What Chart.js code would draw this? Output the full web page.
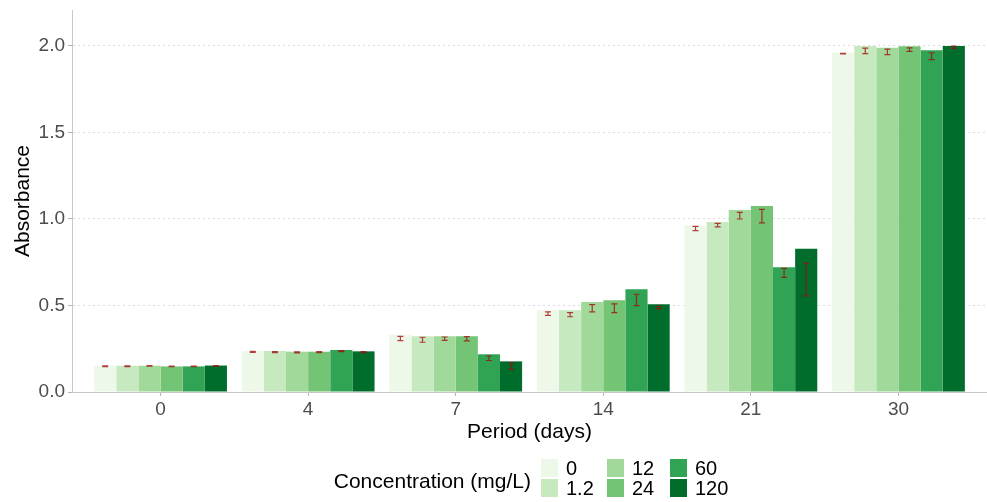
<!DOCTYPE html>
<html><head><meta charset="utf-8">
<script src="https://cdn.jsdelivr.net/npm/chart.js@4.4.1/dist/chart.umd.min.js"></script>
<style>html,body{margin:0;padding:0;background:#fff}#wrap{width:987px;height:502px;position:relative}</style>
</head><body><div id="wrap"><canvas id="c"></canvas></div>
<script>
// Sampling periods (days) and concentration levels
const periods = ['0', '4', '7', '14', '21', '30'];
const concentrations = ['0', '1.2', '12', '24', '60', '120'];
const palette = ['#edf8e9', '#c7e9c0', '#a1d99b', '#74c476', '#31a354', '#006d2c'];

// Bar heights: absorbance per concentration across periods
const bar0   = [0.152, 0.237, 0.331, 0.472, 0.962, 1.963];
const bar1_2 = [0.152, 0.237, 0.322, 0.472, 0.983, 2.000];
const bar12  = [0.152, 0.233, 0.322, 0.520, 1.052, 1.990];
const bar24  = [0.148, 0.233, 0.322, 0.530, 1.075, 1.998];
const bar60  = [0.148, 0.243, 0.218, 0.594, 0.721, 1.975];
const bar120 = [0.153, 0.235, 0.177, 0.507, 0.828, 2.000];

// Error bars: mean and standard deviation per concentration across periods
const mean0   = [0.149, 0.232, 0.309, 0.453, 0.945, 1.956];
const mean1_2 = [0.149, 0.230, 0.302, 0.447, 0.965, 1.972];
const mean12  = [0.151, 0.229, 0.308, 0.484, 1.019, 1.966];
const mean24  = [0.148, 0.230, 0.308, 0.484, 1.017, 1.979];
const mean60  = [0.148, 0.236, 0.195, 0.532, 0.689, 1.941];
const mean120 = [0.151, 0.231, 0.149, 0.488, 0.650, 1.993];

const sd0   = [0.002, 0.003, 0.0125, 0.010, 0.0125, 0.002];
const sd1_2 = [0.002, 0.003, 0.0145, 0.012, 0.010, 0.016];
const sd12  = [0.002, 0.003, 0.010, 0.021, 0.019, 0.016];
const sd24  = [0.002, 0.003, 0.012, 0.025, 0.039, 0.010];
const sd60  = [0.002, 0.003, 0.013, 0.033, 0.026, 0.020];
const sd120 = [0.002, 0.003, 0.018, 0.007, 0.094, 0.007];

const yTicks = [0, 0.5, 1.0, 1.5, 2.0];

const bars = [bar0, bar1_2, bar12, bar24, bar60, bar120];
const means = [mean0, mean1_2, mean12, mean24, mean60, mean120];
const sds = [sd0, sd1_2, sd12, sd24, sd60, sd120];

const FONT = '"Liberation Sans", Arial, sans-serif';

const datasets = concentrations.map((c, k) => ({
  label: c,
  data: bars[k].map((v, i) => ({ x: i, y: v })),
  backgroundColor: palette[k],
  borderWidth: 0,
  categoryPercentage: 0.9,
  barPercentage: 1.0,
  errMean: means[k],
  errSd: sds[k]
}));

// Draws mean ± sd whiskers over each bar
const errorBars = {
  id: 'errorBars',
  afterDatasetsDraw(chart) {
    const ctx = chart.ctx;
    const y = chart.scales.y;
    ctx.save();
    ctx.strokeStyle = 'rgba(160,10,10,0.78)';
    ctx.lineWidth = 1.2;
    chart.data.datasets.forEach((ds, k) => {
      const meta = chart.getDatasetMeta(k);
      meta.data.forEach((el, i) => {
        const m = ds.errMean[i], s = ds.errSd[i];
        const yt = y.getPixelForValue(m + s);
        const yb = y.getPixelForValue(m - s);
        const x = el.x, hw = 3;
        ctx.beginPath();
        ctx.moveTo(x, yt); ctx.lineTo(x, yb);
        ctx.moveTo(x - hw, yt); ctx.lineTo(x + hw, yt);
        ctx.moveTo(x - hw, yb); ctx.lineTo(x + hw, yb);
        ctx.stroke();
      });
    });
    ctx.restore();
  }
};

// Two-row legend with a title on the left, filled column by column
const legendBlock = {
  id: 'legendBlock',
  afterDraw(chart) {
    const ctx = chart.ctx;
    ctx.save();
    ctx.font = '21px ' + FONT;
    ctx.fillStyle = '#000';
    ctx.textBaseline = 'middle';
    ctx.textAlign = 'right';
    ctx.fillText('Concentration (mg/L)', 531, 482);
    ctx.font = '20px ' + FONT;
    ctx.textAlign = 'left';
    const colX = [541, 607, 670];
    const rowY = [459, 479];
    chart.data.datasets.forEach((ds, k) => {
      const col = Math.floor(k / 2), row = k % 2;
      ctx.fillStyle = ds.backgroundColor;
      ctx.fillRect(colX[col], rowY[row], 17, 18);
      ctx.fillStyle = '#000';
      ctx.fillText(ds.label, colX[col] + 25, rowY[row] + 10);
    });
    ctx.restore();
  }
};

new Chart(document.getElementById('c'), {
  type: 'bar',
  data: { datasets },
  plugins: [errorBars, legendBlock],
  options: {
    responsive: true,
    maintainAspectRatio: false,
    animation: false,
    layout: { padding: { top: 10, right: 0, left: 0, bottom: 57 } },
    plugins: { legend: { display: false }, tooltip: { enabled: false } },
    scales: {
      x: {
        type: 'linear',
        offset: false,
        min: -0.6,
        max: 5.6,
        afterBuildTicks(scale) { scale.ticks = periods.map((p, i) => ({ value: i })); },
        afterFit(scale) { scale.height = 53; },
        ticks: {
          callback: (v) => periods[v],
          font: { family: FONT, size: 19 },
          color: '#4d4d4d',
          padding: 2,
          maxRotation: 0,
          autoSkip: false
        },
        grid: { offset: false, drawOnChartArea: false, drawTicks: true, tickLength: 4, tickColor: '#b3b3b3' },
        border: { color: '#c8c8c8', width: 1 },
        title: { display: true, text: 'Period (days)', font: { family: FONT, size: 21 }, color: '#000', padding: { top: 4, bottom: 0 } }
      },
      y: {
        min: 0,
        max: 2.208,
        afterBuildTicks(scale) { scale.ticks = yTicks.map(v => ({ value: v })); },
        afterFit(scale) { scale.width = 72; scale.paddingTop = 0; scale.paddingBottom = 0; },
        ticks: {
          callback: (v) => v.toFixed(1),
          font: { family: FONT, size: 19 },
          color: '#4d4d4d',
          padding: 3
        },
        grid: {
          color: (c) => (c.tick && c.tick.value === 0) ? 'rgba(0,0,0,0)' : '#dcdcdc',
          lineWidth: 1,
          tickLength: 4,
          tickColor: '#b3b3b3',
          tickBorderDash: []
        },
        border: { color: '#c8c8c8', width: 1, dash: [2, 3] },
        title: { display: true, text: 'Absorbance', font: { family: FONT, size: 21 }, color: '#000', padding: { top: 11, bottom: 4 } }
      }
    }
  }
});
</script></body></html>
